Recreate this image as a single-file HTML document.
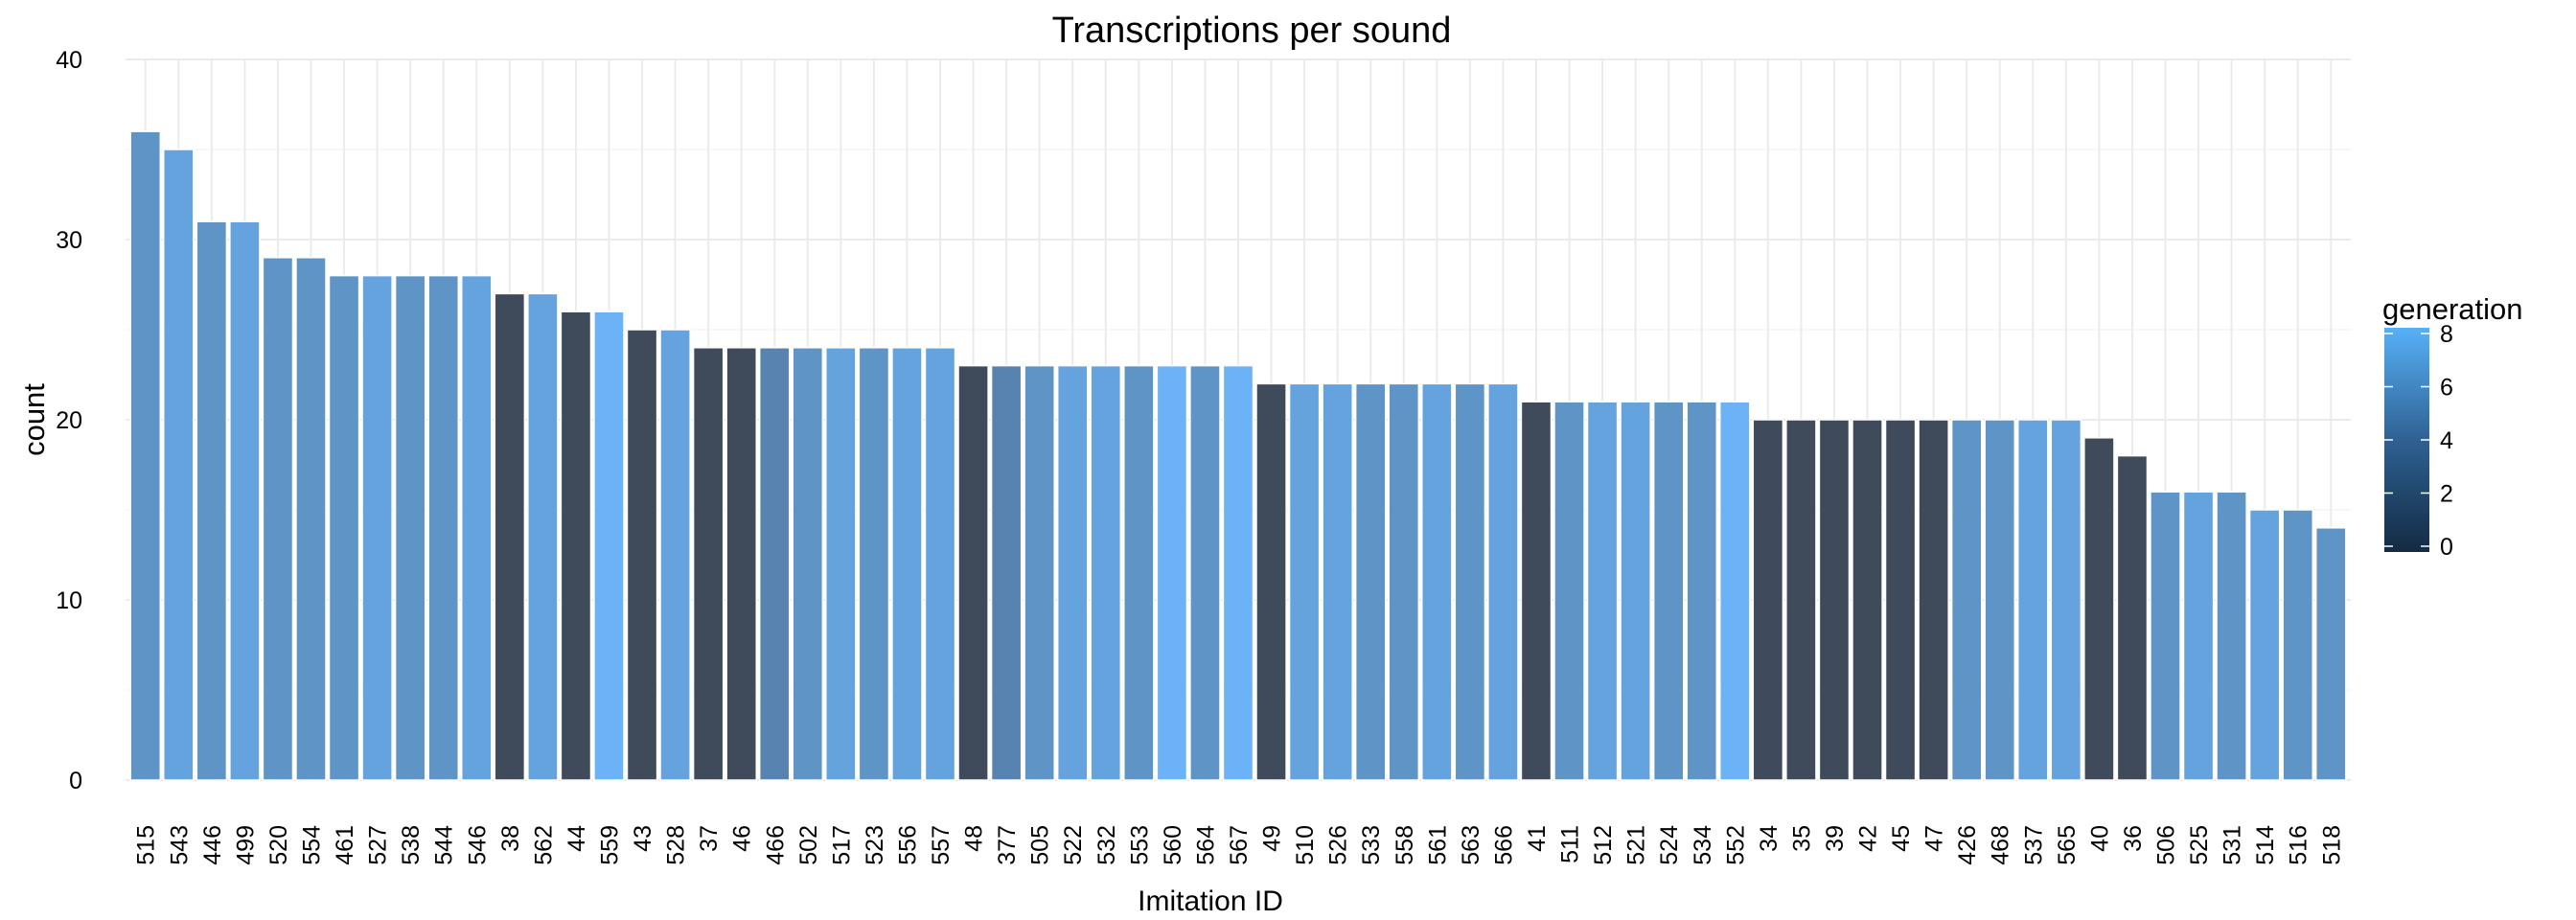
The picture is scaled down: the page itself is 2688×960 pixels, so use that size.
<!DOCTYPE html>
<html><head><meta charset="utf-8"><style>
body{margin:0;background:#fff;}
svg{display:block;font-family:"Liberation Sans",sans-serif;}
</style></head><body>
<svg id="chart" width="2688" height="960">
<defs><linearGradient id="cb" x1="0" y1="1" x2="0" y2="0">
<stop offset="0" stop-color="#132B43"/><stop offset="0.5" stop-color="#2f6193"/><stop offset="1" stop-color="#56B1F7"/></linearGradient></defs>
<text x="1306" y="44" font-size="38" text-anchor="middle">Transcriptions per sound</text>
<g id="grid"></g><g id="bars"></g><g id="yt"></g><g id="xt"></g>
<text x="1263" y="950" font-size="30" text-anchor="middle">Imitation ID</text>
<text transform="translate(46,438) rotate(-90)" font-size="31" text-anchor="middle">count</text>
<g>
<text x="2486" y="333" font-size="31">generation</text>
<rect x="2488" y="342" width="47" height="234" fill="url(#cb)"/>
<g id="lt"></g>
</g>
</svg>
<script>
const ids=["515","543","446","499","520","554","461","527","538","544","546","38","562","44","559","43","528","37","46","466","502","517","523","556","557","48","377","505","522","532","553","560","564","567","49","510","526","533","558","561","563","566","41","511","512","521","524","534","552","34","35","39","42","45","47","426","468","537","565","40","36","506","525","531","514","516","518"];
const counts=[36,35,31,31,29,29,28,28,28,28,28,27,27,26,26,25,25,24,24,24,24,24,24,24,24,23,23,23,23,23,23,23,23,23,22,22,22,22,22,22,22,22,21,21,21,21,21,21,21,20,20,20,20,20,20,20,20,20,20,19,18,16,16,16,15,15,14];
const gens=[6,7,6,7,6,6,6,7,6,6,7,0,7,0,8,0,7,0,0,5,6,7,6,7,7,0,5,6,7,7,6,8,6,8,0,7,7,6,6,7,6,7,0,6,7,7,6,6,8,0,0,0,0,0,0,6,6,7,7,0,0,6,7,6,7,6,6];
const yTicks=[0,10,20,30,40];
const legendTicks=[0,2,4,6,8];
const NS='http://www.w3.org/2000/svg';
const L=131,R=2453,T0=814,T40=62;
const step=(R-L)/(ids.length+0.2);
const xc=i=>L+step*(0.6+i);
const y=v=>T0+(T40-T0)*v/40;
const gy=g=>570+(348-570)*g/8;
const pal=[[63,74,90],[68,83,104],[73,93,118],[77,103,132],[82,114,148],[88,130,176],[95,148,198],[100,163,222],[108,178,246]];
function col(g){const c=pal[Math.max(0,Math.min(8,Math.round(g)))];return 'rgb('+c.join(',')+')';}
function mk(tag,at,parent){const e=document.createElementNS(NS,tag);for(const k in at)e.setAttribute(k,at[k]);document.getElementById(parent).appendChild(e);return e;}
for(let v=5;v<=35;v+=10){const e=mk('line',{x1:L,x2:R,y1:y(v),y2:y(v),stroke:'#f7f7f7','stroke-width':2},'grid');

}
yTicks.forEach(v=>{const e=mk('line',{x1:L,x2:R,y1:y(v),y2:y(v),stroke:'#ebebeb','stroke-width':2},'grid');


const t=mk('text',{x:86,y:y(v)+9,'font-size':25,'text-anchor':'end'},'yt');t.textContent=v;

});
ids.forEach((id,i)=>{const g=mk('line',{x1:xc(i),x2:xc(i),y1:T40,y2:T0,stroke:'#ebebeb','stroke-width':2},'grid');


const bw=step*0.9;
const b=mk('rect',{x:xc(i)-bw/2,y:y(counts[i]),width:bw,height:T0-y(counts[i]),fill:col(gens[i]),stroke:'#fff','stroke-width':1.5},'bars');


const t=mk('text',{transform:'translate('+(xc(i)+9)+',861) rotate(-90)','font-size':25,'text-anchor':'end'},'xt');t.textContent=id;

});
legendTicks.forEach(v=>{mk('line',{x1:2488,x2:2497,y1:gy(v),y2:gy(v),stroke:'#fff','stroke-width':1.5},'lt');
mk('line',{x1:2526,x2:2535,y1:gy(v),y2:gy(v),stroke:'#fff','stroke-width':1.5},'lt');
const t=mk('text',{x:2546,y:gy(v)+9,'font-size':25},'lt');t.textContent=v;

});
</script>
</body></html>
